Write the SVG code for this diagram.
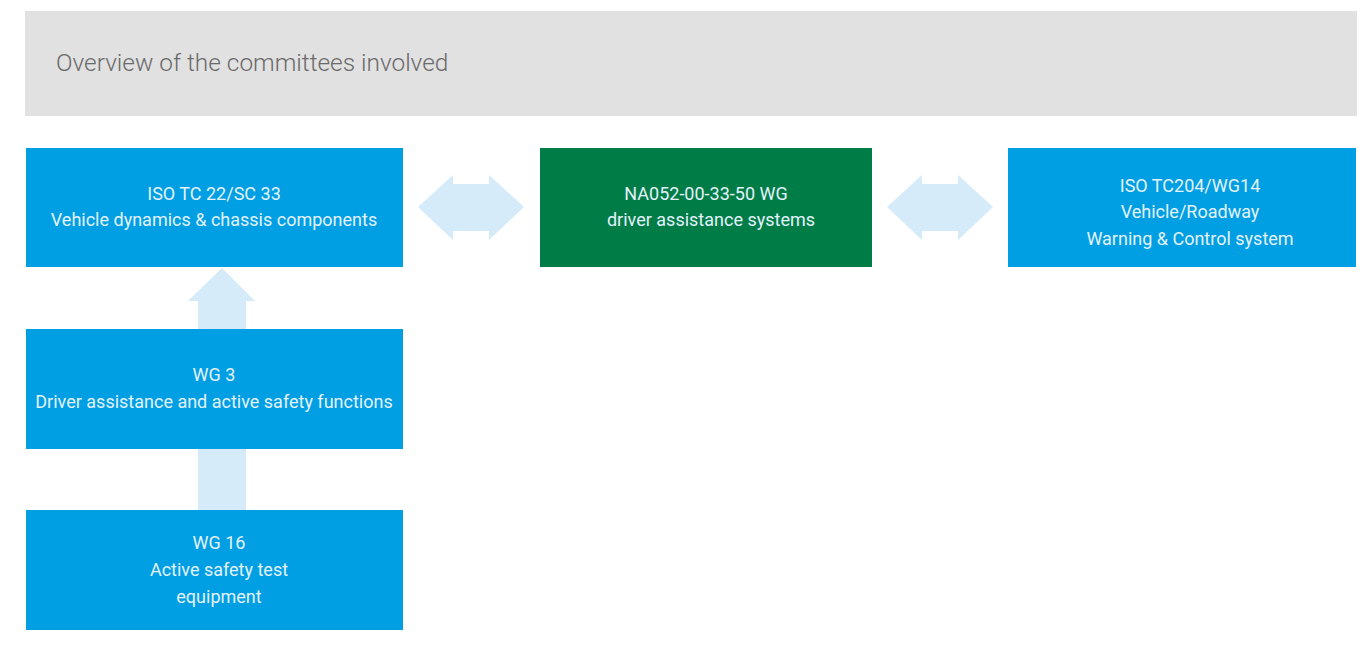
<svg xmlns="http://www.w3.org/2000/svg" width="1366" height="648" viewBox="0 0 1366 648">
<style>
.box{fill:#009fe3}
.green{fill:#007d46}
.lbl{font-family:Roboto,"Liberation Sans",sans-serif;font-size:18px;fill:#e3f2fb;text-anchor:middle}
.arr{fill:#d5ebf9}
.title{font-family:Roboto,"Liberation Sans",sans-serif;font-weight:300;font-size:24.4px;fill:#6a6a6a}
</style>
<rect width="1366" height="648" fill="#ffffff"/>
<g id="header">
<rect x="25" y="11" width="1332" height="105" fill="#e1e1e1"/>
<text class="title" x="56" y="71">Overview of the committees involved</text>
</g>
<g id="connectors">
<polygon class="arr" points="418,207 453,175 453,184 489,184 489,175 524,207 489,240 489,231 453,231 453,240"/>
<polygon class="arr" points="887,207 922,175 922,184 958,184 958,175 993,207 958,240 958,231 922,231 922,240"/>
<polygon class="arr" points="222,268 255,301 246,301 246,329 198,329 198,301 188,301"/>
<rect class="arr" x="198" y="449" width="48" height="61"/>
</g>
<g id="tc22">
<rect class="box" x="26" y="148" width="377" height="119"/>
<text class="lbl" x="214" y="200">ISO TC 22/SC 33</text>
<text class="lbl" x="214" y="226">Vehicle dynamics &amp; chassis components</text>
</g>
<g id="na052">
<rect class="green" x="540" y="148" width="332" height="119"/>
<text class="lbl" x="706" y="200">NA052-00-33-50 WG</text>
<text class="lbl" x="711" y="226">driver assistance systems</text>
</g>
<g id="tc204">
<rect class="box" x="1008" y="148" width="348" height="119"/>
<text class="lbl" x="1190" y="192">ISO TC204/WG14</text>
<text class="lbl" x="1190" y="218">Vehicle/Roadway</text>
<text class="lbl" x="1190" y="245">Warning &amp; Control system</text>
</g>
<g id="wg3">
<rect class="box" x="26" y="329" width="377" height="120"/>
<text class="lbl" x="214" y="381">WG 3</text>
<text class="lbl" x="214" y="408">Driver assistance and active safety functions</text>
</g>
<g id="wg16">
<rect class="box" x="26" y="510" width="377" height="120"/>
<text class="lbl" x="219" y="549">WG 16</text>
<text class="lbl" x="219" y="576">Active safety test</text>
<text class="lbl" x="219" y="603">equipment</text>
</g>
</svg>
